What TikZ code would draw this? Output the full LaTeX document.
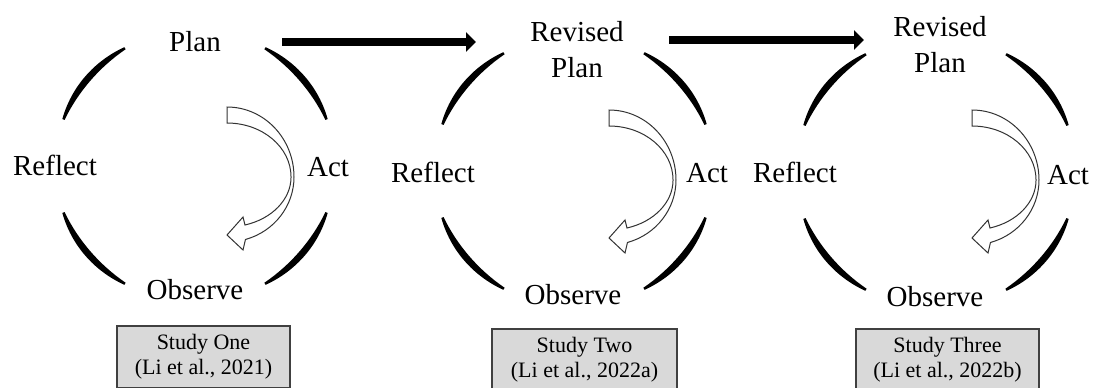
\documentclass[tikz,border=0pt]{standalone}
\usepackage{fontspec}
\setmainfont{Liberation Serif}
\usetikzlibrary{arrows.meta}

\tikzset{
	stage/.style={font=\fontsize{14.5}{18}\selectfont, align=center, inner sep=0pt},
	study/.style={draw=black!75, fill=black!15, line width=0.6pt,
		font=\fontsize{11}{12.5}\selectfont, align=center,
		minimum width=#1, minimum height=31pt, inner sep=0pt},
	bigarrow/.style={line width=4pt, -{Triangle[length=5pt,width=9.5pt]}},
	turnarrow/.style={draw=black!80, fill=white, line width=0.5pt},
}

\newcommand{\cyclearcs}[1]{%
	\foreach \a in {20,120,200,300}
		\fill[shift={(#1)}] (\a:141.2 and 137.2)
			.. controls ({\a+13.2}:147.9 and 143.8) and ({\a+26.8}:147.9 and 143.8) .. ({\a+40}:141.2 and 137.2)
			-- ({\a+40}:138.8 and 134.8)
			.. controls ({\a+26.8}:139.7 and 135.6) and ({\a+13.2}:139.7 and 135.6) .. (\a:138.8 and 134.8) -- cycle;
}
\newcommand{\turnarrow}[1]{%
	\draw[turnarrow, shift={(#1)}] (32,59)
		arc[start angle=90, end angle=0, x radius=67, y radius=70]
		arc[start angle=0, end angle=-74, x radius=67, y radius=65]
		-- (48,-84) -- (32,-69) -- (48,-51) -- (50,-59)
		arc[start angle=-73.7, end angle=0, x radius=64, y radius=50]
		arc[start angle=0, end angle=90, x radius=64, y radius=54] -- cycle;
}

\begin{document}
\begin{tikzpicture}[x=0.5pt, y=0.5pt]
	\useasboundingbox (0,0) rectangle (1094,387);
	\clip (0,0) rectangle (1094,387);

	\cyclearcs{195,221}
	\cyclearcs{574,216}
	\cyclearcs{936,215}

	\turnarrow{195,221}
	\turnarrow{577,218}
	\turnarrow{940,218}

	\begin{scope}[every node/.style={stage}]
		\node (plan1) at (195,345) {Plan};
		\node (reflect1) at (55,222) {Reflect};
		\node (act1) at (328,220) {Act};
		\node (observe1) at (195,97) {Observe};

		\node (plan2) at (577,337) {Revised\\Plan};
		\node (reflect2) at (433,215) {Reflect};
		\node (act2) at (707,214) {Act};
		\node (observe2) at (573,92) {Observe};

		\node (plan3) at (940,342) {Revised\\Plan};
		\node (reflect3) at (795,215) {Reflect};
		\node (act3) at (1068,212) {Act};
		\node (observe3) at (935,90) {Observe};
	\end{scope}

	\node[study=86.5pt] (study1) at (203.5,30) {Study One\\(Li et al., 2021)};
	\node[study=92.5pt] (study2) at (584.5,27) {Study Two\\(Li et al., 2022a)};
	\node[study=91.5pt] (study3) at (947.5,27) {Study Three\\(Li et al., 2022b)};

	\coordinate (from1) at (282,345);
	\coordinate (to1) at (476,345);
	\coordinate (from2) at (669,347);
	\coordinate (to2) at (864,347);

	\draw[bigarrow] (from1) -- (to1);
	\draw[bigarrow] (from2) -- (to2);
\end{tikzpicture}
\end{document}
